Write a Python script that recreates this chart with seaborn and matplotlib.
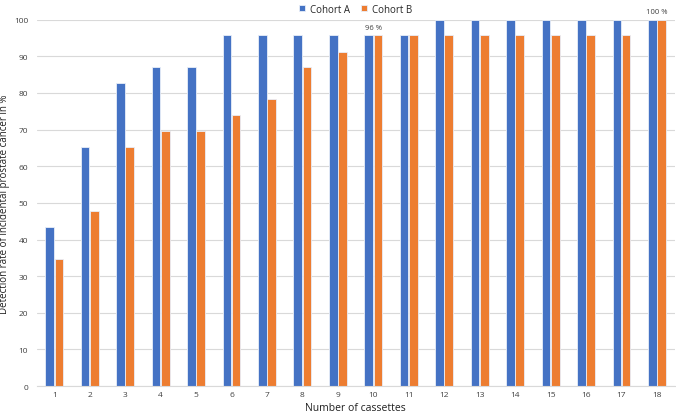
import numpy as np
import pandas as pd
import matplotlib
matplotlib.use("Agg")
import matplotlib.pyplot as plt
import seaborn as sns

# Detection rate (%) per number of cassettes
cassettes = list(range(1, 19))
cohort_a = [43.5, 65.2, 82.6, 87.0, 87.0, 95.7, 95.7, 95.7, 95.7, 95.7, 95.7,
            100, 100, 100, 100, 100, 100, 100]
cohort_b = [34.8, 47.8, 65.2, 69.6, 69.6, 73.9, 78.3, 87.0, 91.3, 95.7, 95.7,
            95.7, 95.7, 95.7, 95.7, 95.7, 95.7, 100]
labels = {10: "96 %", 18: "100 %"}

df = pd.DataFrame({
    "cassettes": cassettes * 2,
    "rate": cohort_a + cohort_b,
    "cohort": ["Cohort A"] * 18 + ["Cohort B"] * 18,
})

sns.set_style("white")
plt.rcParams["font.family"] = ["Open Sans", "DejaVu Sans"]

fig = plt.figure(figsize=(6.76, 4.14), dpi=100)
ax = fig.add_axes([0.054, 0.065, 0.944, 0.885])

sns.barplot(data=df, x="cassettes", y="rate", hue="cohort",
            palette=["#4472C4", "#ED7D31"], saturation=1, width=0.52, gap=0.06,
            linewidth=0.6, edgecolor="#e8eef8", ax=ax, legend=True)

ax.set_ylim(0, 100)
ax.set_xlim(-0.5, 17.5)
ax.set_yticks(range(0, 101, 10))
ax.yaxis.grid(True, color="#d9d9d9", linewidth=0.8)
ax.set_axisbelow(True)
for s in ["top", "right", "left"]:
    ax.spines[s].set_visible(False)
ax.spines["bottom"].set_color("#d9d9d9")
ax.tick_params(axis="both", labelsize=6, colors="#404040", length=0)
ax.tick_params(axis="y", pad=6)
ax.set_xlabel("Number of cassettes", fontsize=7.5, labelpad=3, color="#202020")
ax.set_ylabel("Detection rate of incidental prostate cancer in %", fontsize=7,
              labelpad=3, color="#202020")

for k, txt in labels.items():
    i = cassettes.index(k)
    ax.text(i, max(cohort_a[i], cohort_b[i]) + 1.2, txt, ha="center", va="bottom",
            fontsize=5.5, color="#404040")

ax.legend(loc="lower center", bbox_to_anchor=(0.5, 1.0), ncol=2, frameon=False,
          fontsize=7, handlelength=0.6, handleheight=0.6, columnspacing=1.2,
          handletextpad=0.5, borderaxespad=0.1)

fig.savefig("out.png", dpi=100)
